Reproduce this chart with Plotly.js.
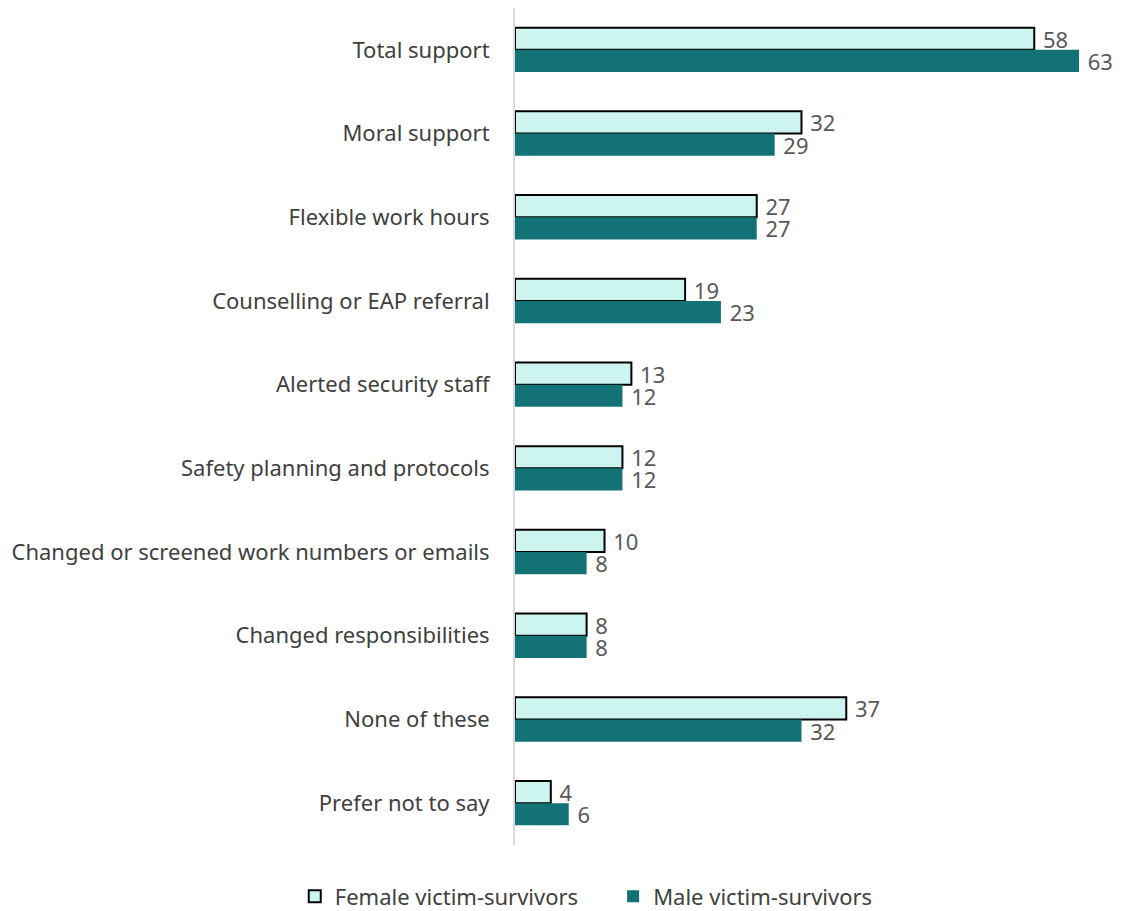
<!DOCTYPE html>
<html>
<head>
<meta charset="utf-8">
<script src="https://cdn.plot.ly/plotly-3.0.1.min.js"></script>
<style>html,body{margin:0;padding:0;background:#fff;}#chart{width:1125px;height:911px;}</style>
</head>
<body>
<div id="chart"></div>
<script>
const categories = ["Total support","Moral support","Flexible work hours","Counselling or EAP referral","Alerted security staff","Safety planning and protocols","Changed or screened work numbers or emails","Changed responsibilities","None of these","Prefer not to say"];
const femaleValues = [58,32,27,19,13,12,10,8,37,4];
const maleValues = [63,29,27,23,12,12,8,8,32,6];
const seriesNames = ["Female victim-survivors","Male victim-survivors"];

const labelFont = {family: "Noto Sans, sans-serif", size: 22, color: "#595959"};
const traces = [
  {type: "bar", orientation: "h", name: seriesNames[0], y: categories, x: femaleValues,
   marker: {color: "#cdf5ef", line: {color: "#000000", width: 2}},
   text: femaleValues.map(v => "\u00a0" + v), textposition: "outside", cliponaxis: false,
   constraintext: "none", textfont: labelFont, legend: "legend"},
  {type: "bar", orientation: "h", name: seriesNames[1], y: categories, x: maleValues,
   marker: {color: "#137275", line: {color: "#137275", width: 0}},
   text: maleValues.map(v => "\u00a0" + v), textposition: "outside", cliponaxis: false,
   constraintext: "none", textfont: labelFont, legend: "legend2"}
];
const legendFont = {family: "Noto Sans, sans-serif", size: 22, color: "#404040"};
const layout = {
  width: 1125, height: 911,
  margin: {l: 515, r: 20, t: 8, b: 66},
  paper_bgcolor: "#ffffff", plot_bgcolor: "#ffffff",
  barmode: "group", bargap: 0.47, bargroupgap: 0,
  font: {family: "Noto Sans, sans-serif", size: 22, color: "#404040"},
  xaxis: {range: [0, 65.9], visible: false, showgrid: false, zeroline: false},
  yaxis: {autorange: "reversed", showline: true, linecolor: "#d9d9d9", linewidth: 2,
          ticks: "", ticklabelstandoff: 19, showgrid: false, zeroline: false,
          tickfont: {family: "Noto Sans, sans-serif", size: 22, color: "#404040"}},
  showlegend: true,
  legend: {orientation: "h", xref: "container", yref: "container", x: 0.262, xanchor: "left",
           y: 0.016, yanchor: "middle", font: legendFont, itemwidth: 30},
  legend2: {orientation: "h", xref: "container", yref: "container", x: 0.545, xanchor: "left",
           y: 0.016, yanchor: "middle", font: legendFont, itemwidth: 30}
};
Plotly.newPlot("chart", traces, layout, {displayModeBar: false, staticPlot: true});
</script>
</body>
</html>
